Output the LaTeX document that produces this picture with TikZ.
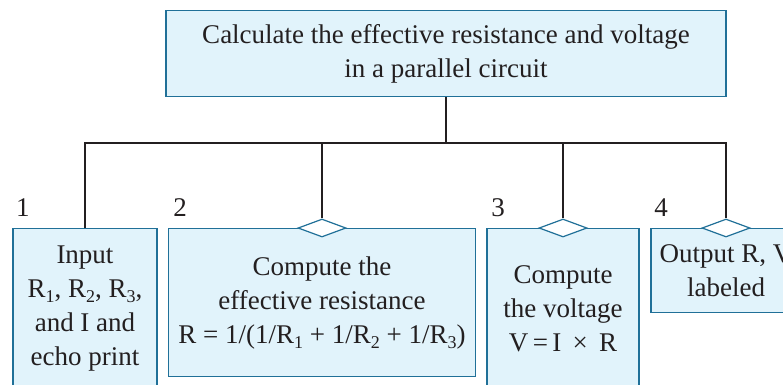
\documentclass[tikz,border=0pt]{standalone}
\usepackage{fontspec}
\setmainfont{Liberation Serif}
\usetikzlibrary{shapes.geometric}
\definecolor{boxfill}{RGB}{225,243,251}
\definecolor{boxline}{RGB}{32,112,152}
\definecolor{linecol}{RGB}{35,31,32}
\newcommand\lowsub[1]{\raisebox{-5pt}{\fontsize{18}{18}\selectfont #1}}
\begin{document}
\begin{tikzpicture}[x=1pt,y=-1pt,
  every node/.style={font=\fontsize{27}{34}\selectfont, text=linecol},
  modbox/.style={draw=boxline, fill=boxfill, line width=1.2pt, align=center, inner sep=0pt, anchor=north},
  joint/.style={shape=diamond, draw=boxline, fill=white, line width=1.2pt, minimum width=48pt, minimum height=18pt, inner sep=0pt},
  conn/.style={draw=linecol, line width=2.5pt},
  numlab/.style={inner sep=0pt}]
\clip (0,0) rectangle (783,384);
\useasboundingbox (0,0) rectangle (783,384);
\node[modbox, minimum width=560pt, minimum height=86pt] (top) at (446,10)
  {Calculate the effective resistance and voltage\\in a parallel circuit};
\node[modbox, minimum width=144pt, minimum height=160pt] (b1) at (85,228)
  {Input\\R\lowsub{1}, R\lowsub{2}, R\lowsub{3},\\and I and\\echo print};
\node[modbox, minimum width=307pt, minimum height=148pt] (b2) at (322,228)
  {Compute the\\effective resistance\\R = 1/(1/R\lowsub{1} + 1/R\lowsub{2} + 1/R\lowsub{3})};
\node[modbox, minimum width=152pt, minimum height=160pt] (b3) at (563,228)
  {Compute\\the voltage\\V\,=\,I \,×\, R};
\node[modbox, minimum width=150pt, minimum height=84pt] (b4) at (726,228)
  {Output R, V\\labeled};
\node[joint] (d2) at (b2.north) {};
\node[joint] (d3) at (b3.north) {};
\node[joint] (d4) at (b4.north) {};
\node[numlab] (n1) at (23,208) {1};
\node[numlab] (n2) at (180,208) {2};
\node[numlab] (n3) at (498,208) {3};
\node[numlab] (n4) at (661,208) {4};
\coordinate (bus) at (446,143);
\draw[conn] (top.south) -- (top.south |- bus);
\draw[conn] (b1.north) -- (b1.north |- bus) -- (d4.north |- bus) -- (d4.north);
\draw[conn] (d2.north) -- (d2.north |- bus);
\draw[conn] (d3.north) -- (d3.north |- bus);
\end{tikzpicture}
\end{document}
